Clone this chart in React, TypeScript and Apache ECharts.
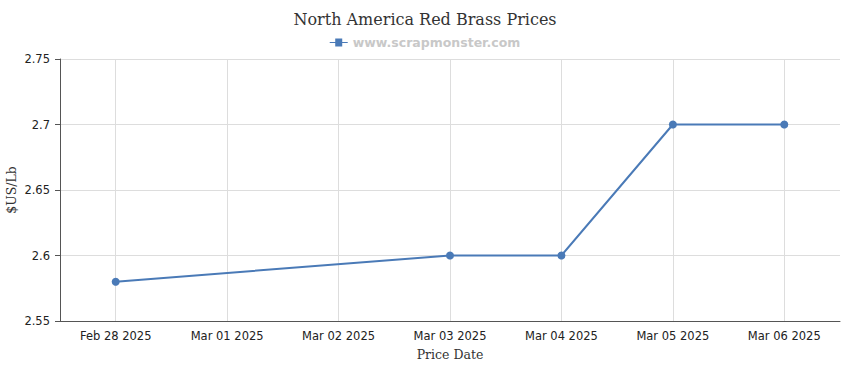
import React, { useEffect, useRef } from "react";
import * as echarts from "echarts";

const categories = ["Feb 28 2025", "Mar 01 2025", "Mar 02 2025", "Mar 03 2025", "Mar 04 2025", "Mar 05 2025", "Mar 06 2025"];
const prices: (number | null)[] = [2.58, null, null, 2.6, 2.6, 2.7, 2.7];
const seriesName = "www.scrapmonster.com";
const titleText = "North America Red Brass Prices";

export default function App() {
  const ref = useRef<HTMLDivElement>(null);
  useEffect(() => {
    const chart = echarts.init(ref.current!, null, { renderer: "svg" });
    chart.setOption({
      animation: false,
      title: {
        text: titleText,
        left: "center",
        top: 6,
        textStyle: { fontFamily: "DejaVu Serif, serif", fontWeight: "normal", fontSize: 16, color: "#333" },
      },
      legend: {
        top: 31,
        left: "center",
        itemWidth: 18,
        itemHeight: 8,
        itemGap: 5,
        icon: "path://M0,3.5L5.5,3.5L5.5,0L12.5,0L12.5,3.5L18,3.5L18,4.5L12.5,4.5L12.5,8L5.5,8L5.5,4.5L0,4.5Z",
        textStyle: { color: "#c8c8c8", fontWeight: "bold", fontSize: 12.5, fontFamily: "Verdana, DejaVu Sans, sans-serif" },
        data: [seriesName],
      },
      grid: { left: 60, right: 10, top: 59, bottom: 49, containLabel: false, outerBoundsMode: "none" },
      xAxis: {
        type: "category",
        data: categories,
        boundaryGap: true,
        name: "Price Date",
        nameLocation: "middle",
        nameGap: 27,
        nameMoveOverlap: false,
        nameTextStyle: { fontFamily: "DejaVu Serif, serif", fontSize: 12.5, color: "#333" },
        axisLine: { lineStyle: { color: "#555" } },
        axisTick: { alignWithLabel: true, length: 5, lineStyle: { color: "#555" } },
        axisLabel: { color: "#222", fontSize: 11.5, margin: 9, fontFamily: "DejaVu Sans, sans-serif", interval: 0 },
        splitLine: { show: true, alignWithLabel: true, lineStyle: { color: "#ddd" } },
      },
      yAxis: {
        type: "value",
        min: 2.55,
        max: 2.75,
        interval: 0.05,
        name: "$US/Lb",
        nameLocation: "middle",
        nameGap: 42,
        nameMoveOverlap: false,
        nameTextStyle: { fontFamily: "DejaVu Serif, serif", fontSize: 12.5, color: "#333" },
        axisLine: { show: true, lineStyle: { color: "#555" } },
        axisTick: { show: true, length: 5, lineStyle: { color: "#555" } },
        axisLabel: { color: "#222", fontSize: 11.5, margin: 10, fontFamily: "DejaVu Sans, sans-serif", formatter: (v: number) => String(parseFloat(v.toFixed(2))) },
        splitLine: { show: true, lineStyle: { color: "#ddd" } },
      },
      series: [
        {
          name: seriesName,
          type: "line",
          data: prices,
          connectNulls: true,
          symbol: "circle",
          symbolSize: 8,
          itemStyle: { color: "#4a7ab7" },
          lineStyle: { color: "#4a7ab7", width: 2 },
        },
      ],
    });
    return () => chart.dispose();
  }, []);
  return <div ref={ref} style={{ width: 850, height: 370, position: "absolute", left: 0, top: 0 }} />;
}
